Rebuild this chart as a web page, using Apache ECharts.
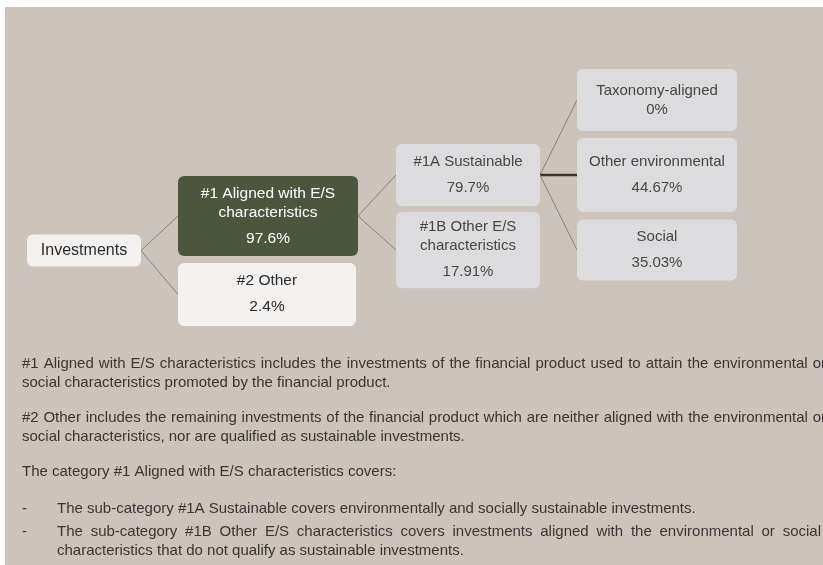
<!DOCTYPE html>
<html>
<head>
<meta charset="utf-8">
<script src="https://cdn.jsdelivr.net/npm/echarts@6/dist/echarts.min.js"></script>
<style>
  html, body { margin: 0; padding: 0; background: #ffffff; }
  #chart-container { width: 823px; height: 565px; }
</style>
</head>
<body>
<div id="chart-container"></div>
<script>
// tree content: one entry per box
var nodeNames = ['Investments', '#1 Aligned with E/S\ncharacteristics', '#2 Other', '#1A Sustainable',
  '#1B Other E/S\ncharacteristics', 'Taxonomy-aligned', 'Other environmental', 'Social'];
var nodeShares = [null, 97.6, 2.4, 79.7, 17.91, 0, 44.67, 35.03];
var nodeParents = [-1, 0, 0, 1, 1, 3, 3, 3];

// notes under the diagram
var noteParagraphs = [
  ['#1 Aligned with E/S characteristics includes the investments of the financial product used to attain the environmental or',
   'social characteristics promoted by the financial product.'],
  ['#2 Other includes the remaining investments of the financial product which are neither aligned with the environmental or',
   'social characteristics, nor are qualified as sustainable investments.'],
  ['The category #1 Aligned with E/S characteristics covers:']
];
var noteBullets = [
  ['The sub-category #1A Sustainable covers environmentally and socially sustainable investments.'],
  ['The sub-category #1B Other E/S characteristics covers investments aligned with the environmental or social',
   'characteristics that do not qualify as sustainable investments.']
];

var FONT = '"Liberation Sans", Arial, sans-serif';

// box look, per node
var light = '#f3f1ef', grey = '#dcdcde', green = '#4b573c';
var boxStyle = [
  { w: 114, pad: [7, 6],     bg: light, color: '#2b2b2b', size: 16,   dx: 0,  dy: 0.5 },
  { w: 180, pad: [8, 1],     bg: green, color: '#ffffff', size: 15.5, dx: -7, dy: 3.5 },
  { w: 178, pad: [8.5, 2.5], bg: light, color: '#2b2b2b', size: 15.5, dx: -8, dy: 7 },
  { w: 144, pad: [8.5, 1.5], bg: grey,  color: '#4a4444', size: 15,   dx: 2,  dy: 0 },
  { w: 144, pad: [5.5, 0],   bg: grey,  color: '#4a4444', size: 15,   dx: 2,  dy: 0 },
  { w: 160, pad: [12.5, 11.5], bg: grey, color: '#4a4444', size: 15,  dx: 0,  dy: 0, tight: true },
  { w: 160, pad: [14.5, 7.5], bg: grey, color: '#4a4444', size: 15,   dx: 0,  dy: 0 },
  { w: 160, pad: [7.5, 1.5], bg: grey,  color: '#4a4444', size: 15,   dx: 0,  dy: 0 }
];

function makeLabel(i) {
  var s = boxStyle[i];
  return {
    show: true,
    position: 'inside',
    offset: [s.dx, s.dy],
    align: 'center',
    verticalAlign: 'middle',
    width: s.w,
    overflow: 'none',
    padding: [s.pad[0], 0, s.pad[1], 0],
    backgroundColor: s.bg,
    borderRadius: 6,
    formatter: function () {
      var parts = nodeNames[i].split('\n').map(function (t) { return '{n|' + t + '}'; });
      if (nodeShares[i] !== null) parts.push('{v|' + nodeShares[i] + '%}');
      return parts.join('\n');
    },
    rich: {
      n: { fontFamily: FONT, fontSize: s.size, color: s.color, lineHeight: 19, align: 'center' },
      v: { fontFamily: FONT, fontSize: s.size, color: s.color, lineHeight: s.tight ? 19 : 33, align: 'center' }
    }
  };
}

function buildNode(i) {
  var kids = [];
  for (var k = 0; k < nodeParents.length; k++) {
    if (nodeParents[k] === i) kids.push(buildNode(k));
  }
  return {
    name: nodeNames[i],
    value: nodeShares[i],
    label: makeLabel(i),
    itemStyle: { color: 'transparent', borderWidth: 0 },
    children: kids
  };
}

var dom = document.getElementById('chart-container');
var myChart = echarts.init(dom, null, { renderer: 'canvas' });

var option = {
  animation: false,
  backgroundColor: '#ffffff',
  series: [
    {
      type: 'tree',
      data: [buildNode(0)],
      orient: 'LR',
      left: 84,
      right: 166,
      top: 25,
      bottom: 202.5,
      symbol: 'circle',
      symbolSize: 1,
      expandAndCollapse: false,
      roam: false,
      silent: true,
      lineStyle: { width: 0, opacity: 0 },
      emphasis: { disabled: true }
    }
  ]
};
myChart.setOption(option);

// connectors: right side of a parent box to the left side of its child box
var treeModel = myChart.getModel().getSeriesByIndex(0);
var area = treeModel.layoutInfo || { x: 84, y: 25 };
var pos = {};
treeModel.getData().tree.eachNode(function (node) {
  var l = node.getLayout();
  if (l && node.depth > 0) pos[node.name] = [area.x + l.x, area.y + l.y];
});

var elements = [
  { type: 'rect', id: 'panel', z: -10, silent: true,
    shape: { x: 5, y: 7, width: 830, height: 570 },
    style: { fill: '#ccc3ba' } }
];

nodeParents.forEach(function (p, i) {
  if (p < 0) return;
  var a = pos[nodeNames[p]], b = pos[nodeNames[i]];
  var sp = boxStyle[p], sc = boxStyle[i];
  var thick = nodeNames[i] === 'Other environmental';
  elements.push({
    type: 'line', id: 'edge' + i, z: 1, silent: true,
    shape: { x1: a[0] + sp.dx + sp.w / 2, y1: a[1] + sp.dy, x2: b[0] + sc.dx - sc.w / 2, y2: b[1] + sc.dy },
    style: { stroke: thick ? '#3b3232' : '#8c8076', lineWidth: thick ? 2.5 : 1 }
  });
});

// notes text, justified like the source document
var noteFont = '15px ' + FONT;
var noteColor = '#3a3535';
var measure = document.createElement('canvas').getContext('2d');
measure.font = noteFont;

function addLine(id, text, x, y, right) {
  if (!right) {
    elements.push({ type: 'text', id: id, silent: true, x: x, y: y,
      style: { text: text, font: noteFont, fill: noteColor, verticalAlign: 'middle' } });
    return;
  }
  var words = text.split(' ');
  var widths = words.map(function (w) { return measure.measureText(w).width; });
  var total = widths.reduce(function (s, w) { return s + w; }, 0);
  var gap = (right - x - total) / (words.length - 1);
  var cx = x;
  words.forEach(function (w, k) {
    elements.push({ type: 'text', id: id + '_' + k, silent: true, x: cx, y: y,
      style: { text: w, font: noteFont, fill: noteColor, verticalAlign: 'middle' } });
    cx += widths[k] + gap;
  });
}

var y = 363.5;
noteParagraphs.forEach(function (para, pi) {
  para.forEach(function (line, li) {
    addLine('p' + pi + '_' + li, line, 22, y, li < para.length - 1 ? 826 : null);
    y += 19;
  });
  y += 16;
});
y += 2;
noteBullets.forEach(function (item, bi) {
  addLine('bd' + bi, '-', 22, y, null);
  item.forEach(function (line, li) {
    addLine('b' + bi + '_' + li, line, 57, y, li < item.length - 1 ? 821 : null);
    y += 19;
  });
  y += 4;
});

myChart.setOption({ graphic: { elements: elements } });

window.addEventListener('resize', myChart.resize);
</script>
</body>
</html>
